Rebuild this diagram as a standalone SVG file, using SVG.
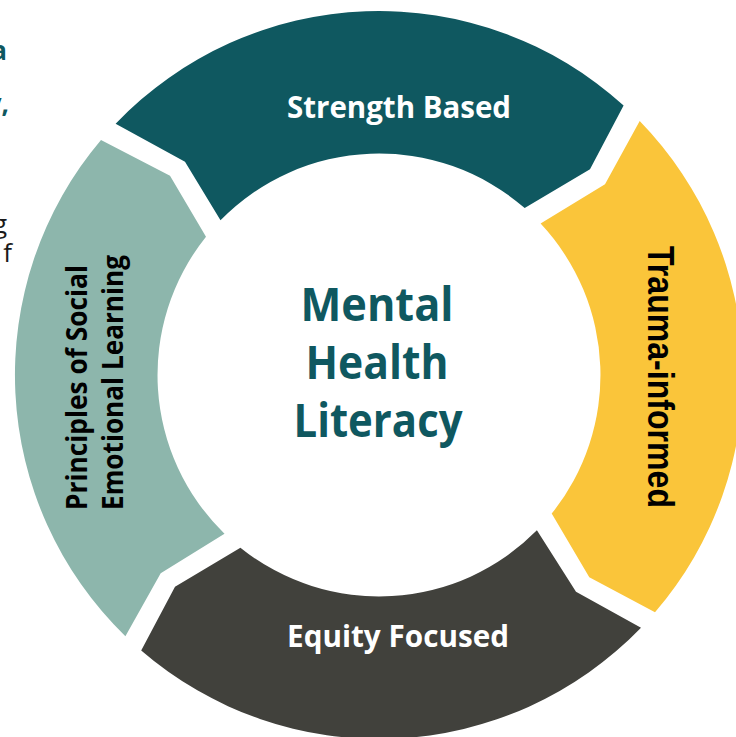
<svg xmlns="http://www.w3.org/2000/svg" width="736" height="737" viewBox="0 0 736 737">
<style>
.seg-top{fill:#0F5860}
.seg-right{fill:#FAC53A}
.seg-bottom{fill:#41413C}
.seg-left{fill:#8DB6AC}
.lbl{font-family:"Open Sans","Noto Sans","Liberation Sans",sans-serif;font-weight:700;font-size:30px;fill:#FFFFFF;text-anchor:middle}
.lbl-dark{font-family:"Open Sans","Noto Sans","Liberation Sans",sans-serif;font-weight:700;font-size:29px;fill:#000000}
.lbl-arial{font-family:"Liberation Sans",Arial,sans-serif;font-weight:700;font-size:37px;fill:#000000;text-anchor:middle}
.center{font-family:"Open Sans","Noto Sans","Liberation Sans",sans-serif;font-weight:700;font-size:46px;fill:#0F5860;text-anchor:middle}
.frag{font-family:"Open Sans","Noto Sans","Liberation Sans",sans-serif;font-size:26px;text-anchor:end}
</style>
<rect x="0" y="0" width="736" height="737" fill="#FFFFFF"/>
<g id="fragments">
<text class="frag" x="7" y="60" fill="#0F5860" font-weight="700">a</text>
<text class="frag" x="9" y="113" fill="#0F5860" font-weight="700">y,</text>
<text class="frag" x="7" y="233" fill="#1A1A1A">g</text>
<text class="frag" x="12" y="262" fill="#1A1A1A">f</text>
</g>
<g id="node-strength-based">
<path class="seg-top" d="M115.6,123.8 A364,364 0 0 1 623.6,105.5 L590,169.3 L524.7,208.1 A221.5,221.5 0 0 0 220.5,220.3 L185,161.7 Z"/>
<text class="lbl" x="399" y="117.5" textLength="224" lengthAdjust="spacingAndGlyphs">Strength Based</text>
</g>
<g id="node-trauma-informed">
<path class="seg-right" d="M639.7,121 A364,364 0 0 1 655,612.3 L589.3,577.3 L551.7,513.6 A221.5,221.5 0 0 0 540.6,223.5 L605,184.3 Z"/>
<text class="lbl-arial" transform="translate(647.5,377) rotate(90)" x="0" y="0" textLength="262" lengthAdjust="spacingAndGlyphs">Trauma-informed</text>
</g>
<g id="node-equity-focused">
<path class="seg-bottom" d="M641,627.7 A364,364 0 0 1 141.2,650.5 L175,586.7 L240.4,547.7 A221.5,221.5 0 0 0 536.9,530.3 L576,591.7 Z"/>
<text class="lbl" x="398" y="647.3" textLength="222" lengthAdjust="spacingAndGlyphs">Equity Focused</text>
</g>
<g id="node-sel">
<path class="seg-left" d="M125.4,636.2 A364,364 0 0 1 101,140 L170,175.7 L206,236.7 A221.5,221.5 0 0 0 224.5,533.7 L160.7,573.3 Z"/>
<text class="lbl-dark" transform="translate(87.3,510) rotate(-90)" x="0" y="0" textLength="245" lengthAdjust="spacingAndGlyphs">Principles of Social</text>
<text class="lbl-dark" transform="translate(122.7,510) rotate(-90)" x="0" y="0" textLength="255" lengthAdjust="spacingAndGlyphs">Emotional Learning</text>
</g>
<g id="node-center">
<text class="center" x="377" y="321" textLength="153" lengthAdjust="spacingAndGlyphs">Mental</text>
<text class="center" x="377" y="379" textLength="143" lengthAdjust="spacingAndGlyphs">Health</text>
<text class="center" x="378" y="437" textLength="169" lengthAdjust="spacingAndGlyphs">Literacy</text>
</g>
<g id="connectors"></g>
</svg>
